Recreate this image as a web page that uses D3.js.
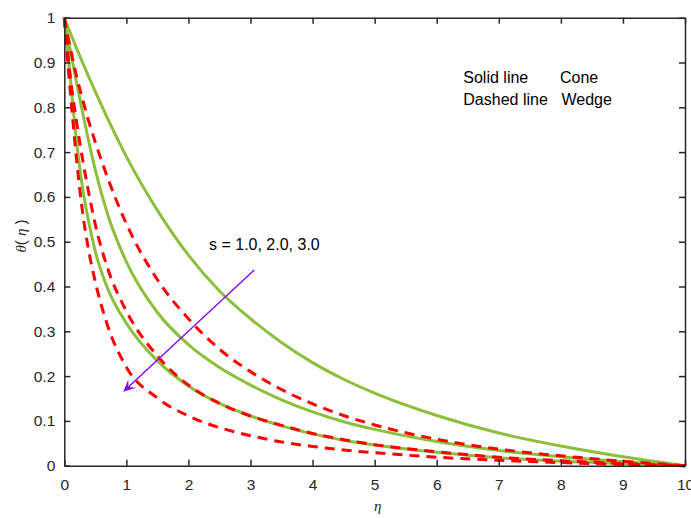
<!DOCTYPE html>
<html>
<head>
<meta charset="utf-8">
<script src="https://cdn.jsdelivr.net/npm/d3@7"></script>
<style>
  html, body { margin: 0; padding: 0; background: #fff; }
  svg { display: block; }
  text { font-family: "Liberation Sans", Arial, Helvetica, sans-serif; }
</style>
</head>
<body>
<svg id="chart" width="691" height="518"></svg>
<script>
// ---- data ----
const eta = [0, 0.05, 0.1, 0.2, 0.3, 0.4, 0.5, 0.7, 1, 1.5, 2, 2.5, 3, 3.5, 4, 4.5, 5, 6, 7, 8, 9, 10];
// Cone (solid lines), s = 1.0, 2.0, 3.0
const coneS1 = [1, 0.982, 0.965, 0.931, 0.898, 0.866, 0.835, 0.774, 0.69, 0.57, 0.47, 0.39, 0.328, 0.275, 0.23, 0.193, 0.162, 0.112, 0.073, 0.044, 0.02, 0];
const coneS2 = [1, 0.962, 0.925, 0.853, 0.785, 0.72, 0.66, 0.56, 0.455, 0.342, 0.27, 0.219, 0.18, 0.147, 0.12, 0.098, 0.081, 0.054, 0.034, 0.02, 0.009, 0];
const coneS3 = [1, 0.93, 0.86, 0.72, 0.615, 0.54, 0.478, 0.395, 0.318, 0.234, 0.178, 0.139, 0.111, 0.089, 0.071, 0.057, 0.046, 0.030, 0.018, 0.010, 0.005, 0];
// Wedge (dashed lines), s = 1.0, 2.0, 3.0
const wedgeS1 = [1, 0.964, 0.93, 0.868, 0.815, 0.766, 0.722, 0.642, 0.54, 0.415, 0.328, 0.26, 0.21, 0.17, 0.138, 0.112, 0.091, 0.059, 0.037, 0.022, 0.01, 0];
const wedgeS2 = [1, 0.93, 0.865, 0.765, 0.68, 0.605, 0.538, 0.44, 0.345, 0.245, 0.18, 0.139, 0.111, 0.09, 0.072, 0.058, 0.047, 0.031, 0.019, 0.011, 0.005, 0];
const wedgeS3 = [1, 0.91, 0.83, 0.68, 0.56, 0.475, 0.41, 0.312, 0.22, 0.151, 0.111, 0.085, 0.067, 0.053, 0.043, 0.035, 0.029, 0.019, 0.012, 0.007, 0.003, 0];
const xTicks = [0, 1, 2, 3, 4, 5, 6, 7, 8, 9, 10];
const yTicks = [0, 0.1, 0.2, 0.3, 0.4, 0.5, 0.6, 0.7, 0.8, 0.9, 1];
const legendLines = [["Solid line", "Cone"], ["Dashed line", "Wedge"]];
const annotationText = "s = 1.0, 2.0, 3.0";
const arrowFrom = [3.06, 0.437];
const arrowTo = [0.95, 0.165];

// ---- layout ----
const svg = d3.select("#chart");
svg.append("rect").attr("width", 691).attr("height", 518).attr("fill", "#fff");
const L = 64.3, R = 685, T = 17.7, B = 465.7;
const x = d3.scaleLinear().domain([0, 10]).range([L, R]);
const y = d3.scaleLinear().domain([0, 1]).range([B, T]);
const axisColor = "#262626";

// ---- curves ----
const line = d3.line().x(d => x(d[0])).y(d => y(d[1])).curve(d3.curveMonotoneX);
const green = "#8cbf3c", red = "#ff0000";
const cone = [coneS1, coneS2, coneS3];
const wedge = [wedgeS1, wedgeS2, wedgeS3];
const plot = svg.append("g");
cone.forEach(s => {
  plot.append("path").datum(eta.map((e, i) => [e, s[i]]))
    .attr("d", line).attr("fill", "none").attr("stroke", green)
    .attr("stroke-width", 3);
});
wedge.forEach(s => {
  plot.append("path").datum(eta.map((e, i) => [e, s[i]]))
    .attr("d", line).attr("fill", "none").attr("stroke", red)
    .attr("stroke-width", 3).attr("stroke-dasharray", "10,7");
});

// ---- axes ----
function styleAxis(g) {
  g.selectAll("path.domain").attr("stroke", axisColor).attr("stroke-width", 1.5);
  g.selectAll(".tick line").attr("stroke", axisColor).attr("stroke-width", 1.5);
  g.selectAll(".tick text").attr("fill", axisColor)
    .style("font-family", '"Liberation Sans", Arial, sans-serif').style("font-size", "15.5px");
}
svg.append("g").attr("transform", `translate(0,${B})`)
  .call(d3.axisBottom(x).tickValues(xTicks).tickFormat(d => String(d)).tickSize(-6).tickSizeOuter(0).tickPadding(13))
  .call(styleAxis);
svg.append("g").attr("transform", `translate(${L},0)`)
  .call(d3.axisLeft(y).tickValues(yTicks).tickFormat(d => String(d)).tickSize(-6).tickSizeOuter(0).tickPadding(9))
  .call(styleAxis);
svg.append("g").attr("transform", `translate(0,${T})`)
  .call(d3.axisTop(x).tickValues(xTicks).tickFormat("").tickSize(-6).tickSizeOuter(0))
  .call(styleAxis);
svg.append("g").attr("transform", `translate(${R},0)`)
  .call(d3.axisRight(y).tickValues(yTicks).tickFormat("").tickSize(-6).tickSizeOuter(0))
  .call(styleAxis);

// ---- axis labels ----
const serif = '"Liberation Serif", "DejaVu Serif", serif';
const xl = svg.append("text").attr("x", (L + R) / 2 + 3).attr("y", 511)
  .attr("text-anchor", "middle").attr("fill", axisColor).style("font-size", "15px");
xl.append("tspan").style("font-family", serif).style("font-style", "italic").text("η");

const yl = svg.append("text").attr("transform", "translate(26,236) rotate(-90)")
  .attr("text-anchor", "middle").attr("fill", axisColor).style("font-size", "15px");
yl.append("tspan").style("font-family", serif).style("font-style", "italic").text("θ");
yl.append("tspan").text("( ");
yl.append("tspan").style("font-family", serif).style("font-style", "italic").text("η");
yl.append("tspan").text(" )");

// ---- legend text ----
legendLines.forEach((p, i) => {
  svg.append("text").attr("x", 463.3).attr("y", 83.3 + i * 22).attr("fill", "#000")
    .style("font-size", "16px").text(p[0]);
  svg.append("text").attr("x", i === 0 ? 560 : 561.5).attr("y", 83.3 + i * 22).attr("fill", "#000")
    .style("font-size", "16px").text(p[1]);
});

// ---- annotation with arrow ----
svg.append("text").attr("x", 209).attr("y", 250).attr("fill", "#000")
  .style("font-size", "16px").text(annotationText);
const purple = "#8000ff";
const x1 = x(arrowFrom[0]), y1 = y(arrowFrom[1]), x2 = x(arrowTo[0]), y2 = y(arrowTo[1]);
const ang = Math.atan2(y2 - y1, x2 - x1);
const hl = 12, hw = 5.5, notch = 7;
const bx = x2 - notch * Math.cos(ang), by = y2 - notch * Math.sin(ang);
svg.append("line").attr("x1", x1).attr("y1", y1).attr("x2", bx).attr("y2", by)
  .attr("stroke", purple).attr("stroke-width", 1.3);
const pt = (a, b) => [x2 - a * Math.cos(ang) + b * Math.sin(ang), y2 - a * Math.sin(ang) - b * Math.cos(ang)];
const head = [[x2, y2], pt(hl, hw), pt(notch, 0), pt(hl, -hw)];
svg.append("path").attr("d", "M" + head.map(p => p.join(",")).join("L") + "Z").attr("fill", purple);
</script>
</body>
</html>
